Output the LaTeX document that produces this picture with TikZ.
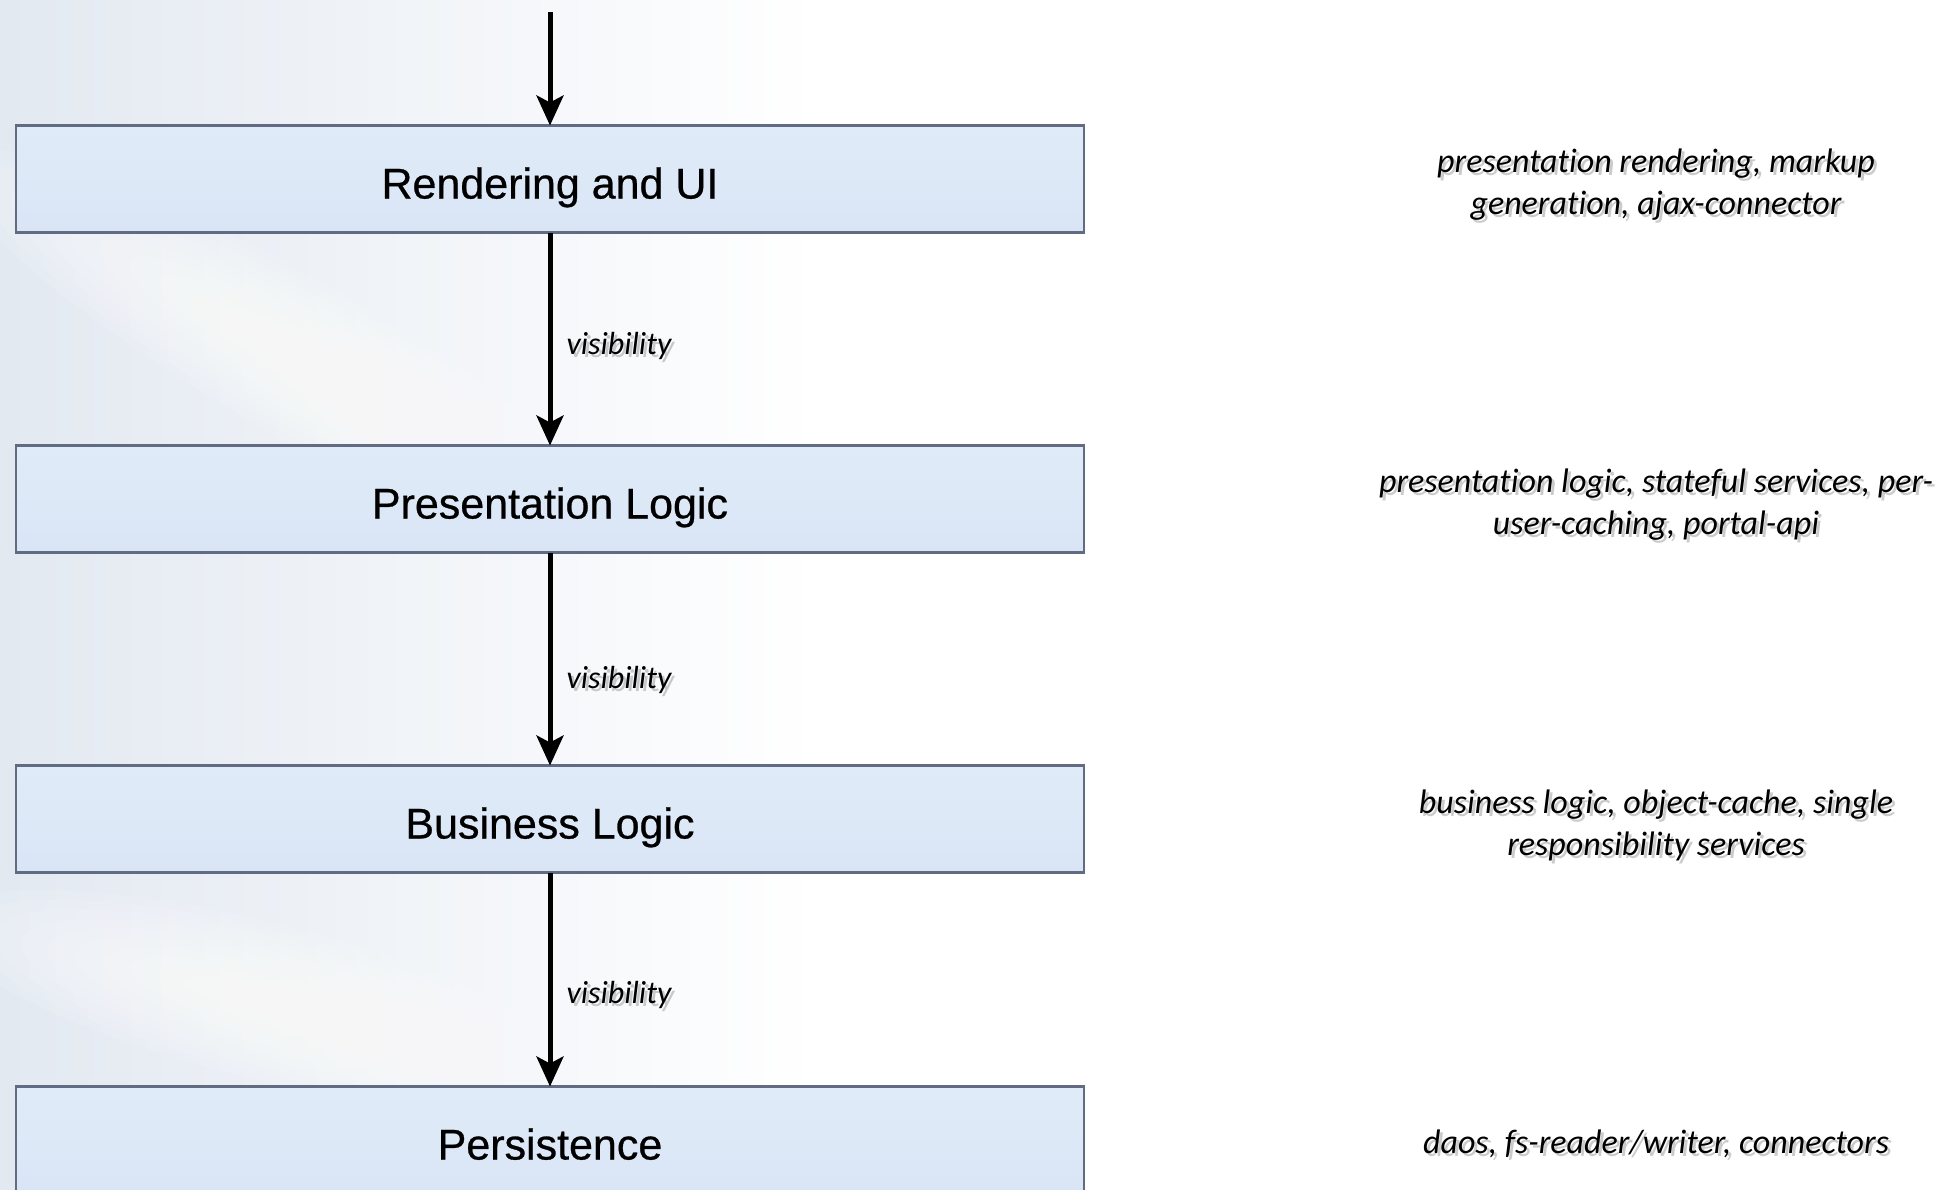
\documentclass[tikz,border=0pt]{standalone}
\usepackage{fontspec}
\setmainfont{Liberation Sans}
\newfontfamily\boxfont[FakeBold=0.6]{Liberation Sans}
\newfontfamily\notefont[Ligatures=NoCommon]{Carlito}
\usetikzlibrary{arrows.meta,calc}

\definecolor{bgtint}{HTML}{E3E9F1}
\definecolor{boxtop}{HTML}{E0EBF9}
\definecolor{boxbot}{HTML}{D9E5F5}
\definecolor{boxline}{HTML}{616C82}

\tikzset{
  layer/.style={
    draw=boxline, line width=2.5pt,
    minimum width=1068pt, minimum height=107pt,
    inner sep=0pt, outer sep=0pt,
    text height=39pt, text depth=0pt,
    top color=boxtop, bottom color=boxbot, middle color=boxtop!60!boxbot,
    font=\boxfont\fontsize{43}{50}\selectfont
  },
  note/.style={
    align=center, inner sep=0pt,
    font=\notefont\itshape\fontsize{34}{42}\selectfont
  },
  noteshadow/.style={note, text=black!45, opacity=0.45},
  flow/.style={
    line width=5pt,
    -{Stealth[length=30pt,width=27pt,inset=7pt]}
  },
  vislabel/.style={
    anchor=west, inner sep=0pt, xshift=14pt, yshift=-5pt,
    font=\notefont\itshape\fontsize{32}{40}\selectfont
  },
  visshadow/.style={vislabel, text=black!45, opacity=0.45, xshift=3pt, yshift=-3pt}
}

\begin{document}
\begin{tikzpicture}[x=1pt,y=-1pt]
  \useasboundingbox (0,0) rectangle (1938,1189);

  % soft tinted backdrop on the left, with pale light streaks
  \shade[left color=bgtint, right color=white] (0,0) rectangle (820,1189);
  \begin{scope}
    \clip (0,0) rectangle (820,1189);
    \foreach \k in {1,...,10} {
      \fill[white, opacity=0.1, rotate around={-30:(300,360)}]
        (300,360) ellipse [x radius={60+34*\k}, y radius={8+7*\k}];
      \fill[white, opacity=0.1, rotate around={-14:(260,1000)}]
        (260,1000) ellipse [x radius={50+28*\k}, y radius={8+7*\k}];
    }
  \end{scope}

  % layers
  \node[layer] (r) at (550,179) {Rendering and UI};
  \node[layer] (p) at (550,499) {Presentation Logic};
  \node[layer] (b) at (550,819) {Business Logic};
  \node[layer] (s) at (550,1140) {Persistence};

  % entry point
  \coordinate (entry) at (550,12);
  \draw[flow] (entry) -- (r.north);

  % visibility between layers
  \draw[flow] (r.south) -- node[visshadow, pos=0.51] {visibility} node[vislabel, pos=0.51] {visibility} (p.north);
  \draw[flow] (p.south) -- node[visshadow, pos=0.575] {visibility} node[vislabel, pos=0.575] {visibility} (b.north);
  \draw[flow] (b.south) -- node[visshadow, pos=0.55] {visibility} node[vislabel, pos=0.55] {visibility} (s.north);

  % responsibilities of each layer
  \node[noteshadow] at (1659,188) {presentation rendering, markup\\generation, ajax-connector};
  \node[note] (rn) at (1656,185) {presentation rendering, markup\\generation, ajax-connector};

  \node[noteshadow] at (1659,508) {presentation logic, stateful services, per-\\user-caching, portal-api};
  \node[note] (pn) at (1656,505) {presentation logic, stateful services, per-\\user-caching, portal-api};

  \node[noteshadow] at (1659,828) {business logic, object-cache, single\\responsibility services};
  \node[note] (bn) at (1656,825) {business logic, object-cache, single\\responsibility services};

  \node[noteshadow] at (1659,1147) {daos, fs-reader/writer, connectors};
  \node[note] (sn) at (1656,1144) {daos, fs-reader/writer, connectors};
\end{tikzpicture}
\end{document}
